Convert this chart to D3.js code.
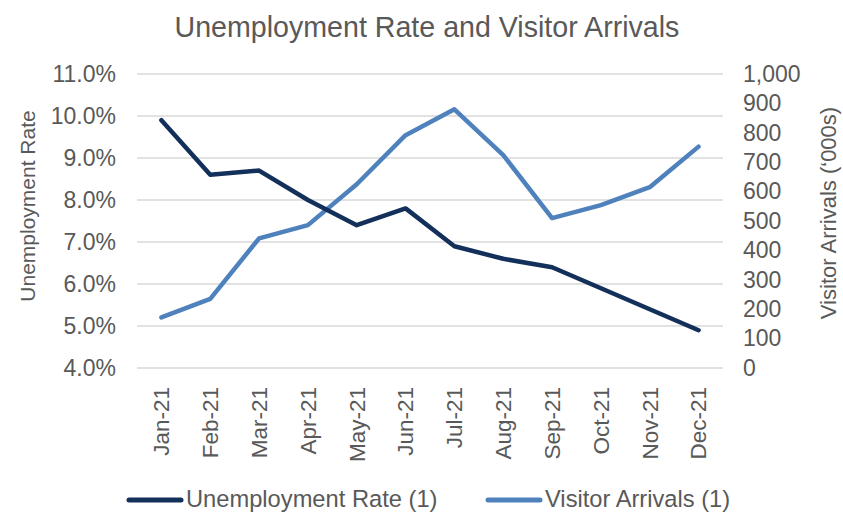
<!DOCTYPE html>
<html><head><meta charset="utf-8">
<script src="https://cdn.jsdelivr.net/npm/d3@7"></script>
<style>body{margin:0;background:#fff;} text{font-family:"Liberation Sans",Arial,sans-serif;fill:#595959;}</style>
</head><body><svg id="c" width="843" height="513"></svg>
<script>
const months = ["Jan-21","Feb-21","Mar-21","Apr-21","May-21","Jun-21","Jul-21","Aug-21","Sep-21","Oct-21","Nov-21","Dec-21"];
const unemployment = [9.9, 8.6, 8.7, 8.0, 7.4, 7.8, 6.9, 6.6, 6.4, 5.9, 5.4, 4.9];
const visitors = [172, 235, 441, 486, 625, 792, 880, 724, 510, 554, 615, 753];
const leftTicks = [4,5,6,7,8,9,10,11];
const rightTicks = [0,100,200,300,400,500,600,700,800,900,1000];

const svg = d3.select("#c");
const L = 137, R = 723, T = 74, B = 368;
const FONT = "Liberation Sans, Arial, sans-serif";
const x = d3.scaleBand().domain(months).range([L, R]);
const yL = d3.scaleLinear().domain([4, 11]).range([B, T]);
const yR = d3.scaleLinear().domain([0, 1000]).range([B, T]);

// gridlines
svg.append("g").selectAll("line").data(leftTicks).join("line")
  .attr("x1", L).attr("x2", R).attr("y1", d => yL(d)).attr("y2", d => yL(d))
  .attr("stroke", "#d9d9d9").attr("stroke-width", 1.3);

// left axis
const gl = svg.append("g").attr("transform", `translate(${L},0)`)
  .call(d3.axisLeft(yL).tickValues(leftTicks).tickFormat(d => d.toFixed(1) + "%").tickSize(0).tickPadding(21));
gl.select(".domain").remove();
gl.selectAll("text").style("font-size", "23px").attr("fill", "#595959").style("font-family", FONT);

// right axis
const gr = svg.append("g").attr("transform", `translate(${R},0)`)
  .call(d3.axisRight(yR).tickValues(rightTicks).tickFormat(d3.format(",")).tickSize(0).tickPadding(20));
gr.select(".domain").remove();
gr.selectAll("text").style("font-size", "23px").attr("fill", "#595959").style("font-family", FONT);

// x axis
const gx = svg.append("g").attr("transform", `translate(0,${B})`)
  .call(d3.axisBottom(x).tickSize(0).tickPadding(0));
gx.select(".domain").remove();
gx.selectAll("text").style("font-size", "22.5px").attr("fill", "#595959").style("font-family", FONT)
  .attr("transform", "rotate(-90)").attr("text-anchor", "end").attr("x", -19).attr("y", 0).attr("dy", "0.35em");

// lines
const cx = d => x(d) + x.bandwidth() / 2;
const lineU = d3.line().x((d, i) => cx(months[i])).y(d => yL(d));
const lineV = d3.line().x((d, i) => cx(months[i])).y(d => yR(d));
svg.append("path").datum(visitors).attr("d", lineV).attr("fill", "none")
  .attr("stroke", "#4f81bd").attr("stroke-width", 4.5).attr("stroke-linecap", "round").attr("stroke-linejoin", "round");
svg.append("path").datum(unemployment).attr("d", lineU).attr("fill", "none")
  .attr("stroke", "#13305a").attr("stroke-width", 4.5).attr("stroke-linecap", "round").attr("stroke-linejoin", "round");

// title
svg.append("text").attr("x", 427).attr("y", 37).attr("text-anchor", "middle")
  .style("font-size", "28.6px").text("Unemployment Rate and Visitor Arrivals");

// axis titles
svg.append("text").attr("transform", "translate(35,206) rotate(-90)").attr("text-anchor", "middle")
  .style("font-size", "21px").text("Unemployment Rate");
svg.append("text").attr("transform", "translate(836,213) rotate(-90)").attr("text-anchor", "middle")
  .style("font-size", "22px").text("Visitor Arrivals (\u2018000s)");

// legend
const legend = [{name: "Unemployment Rate (1)", color: "#13305a", x: 127}, {name: "Visitor Arrivals (1)", color: "#4f81bd", x: 486}];
const lg = svg.append("g").selectAll("g").data(legend).join("g");
lg.append("line").attr("x1", d => d.x + 2).attr("x2", d => d.x + 54).attr("y1", 500).attr("y2", 500)
  .attr("stroke", d => d.color).attr("stroke-width", 5).attr("stroke-linecap", "round");
lg.append("text").attr("x", d => d.x + 59).attr("y", 499).attr("dy", "0.35em")
  .style("font-size", "23.7px").text(d => d.name);
</script></body></html>
